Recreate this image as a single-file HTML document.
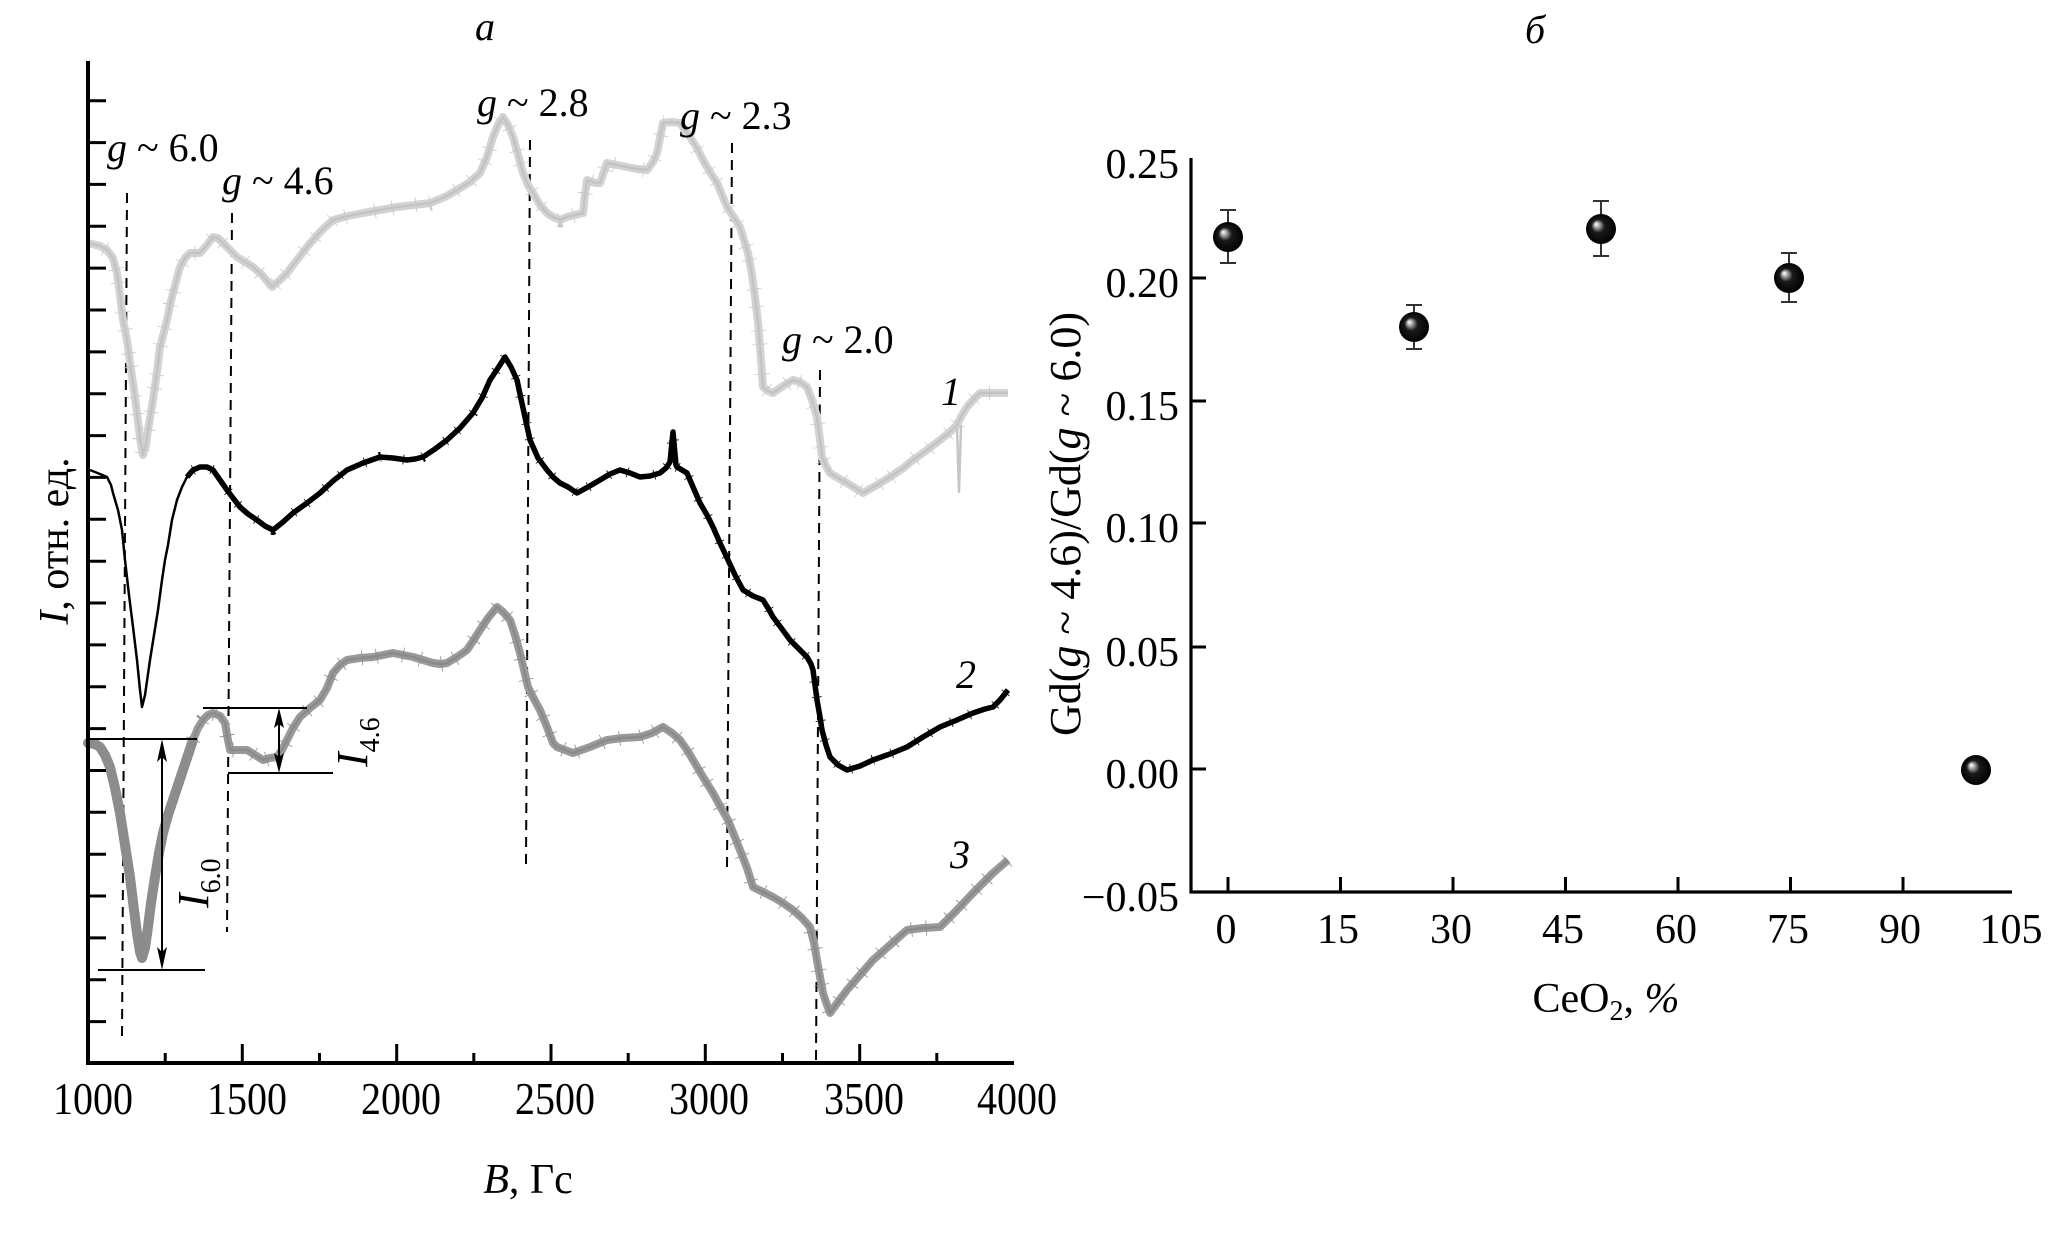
<!DOCTYPE html>
<html><head><meta charset="utf-8"><style>
html,body{margin:0;padding:0;background:#fff;}
svg{display:block;}
text{font-family:"Liberation Serif","DejaVu Serif",serif;fill:#000;}
</style></head><body>
<svg width="2067" height="1233" viewBox="0 0 2067 1233" xmlns="http://www.w3.org/2000/svg">
<rect width="2067" height="1233" fill="#fff"/>

<!-- ===== Left panel ===== -->
<text x="485" y="40" font-size="40" font-style="italic" text-anchor="middle">а</text>

<!-- dashed guide lines -->
<g stroke="#000" stroke-width="2" stroke-dasharray="10,7" fill="none">
<line x1="127" y1="193" x2="122" y2="1037"/>
<line x1="232" y1="213" x2="227" y2="932"/>
<line x1="530" y1="140" x2="526" y2="864"/>
<line x1="732" y1="143" x2="727" y2="867"/>
<line x1="820" y1="370" x2="816" y2="1062"/>
</g>

<!-- curve 1 (light gray) -->
<g fill="none" stroke-linejoin="round">
<polyline stroke="#d3d3d3" stroke-width="8" points="88,243 100,246 107,250 113,258 117,273 120,295 123,320 127,340 130,363 134,390 137,413 140,438 143,455 146,445 148,430 151,412 153,400 157,372 160,347 164,332 167,320 170,305 173,293 177,278 180,267 185,258 190,253 200,253 207,245 213,237 218,238 223,243 230,250 237,257 245,262 253,267 262,275 272,287 280,280 287,273 297,260 307,247 320,232 333,220 348,216 363,213 380,210 397,207 414,205 430,203 445,197 457,190 470,182 480,173 487,157 493,137 498,125 503,117 508,125 513,137 518,155 523,173 528,185 533,193 540,205 547,213 553,217 560,220 567,217 575,215 583,213 585,195 587,180 595,183 600,183 607,163 617,165 627,167 637,169 647,170 653,162 657,153 660,138 663,123 672,122 680,123 690,137 697,148 703,160 710,172 717,183 727,207 733,216 740,227 748,253 752,275 755,297 758,322 760,347 763,387 768,391 773,393 783,386 793,380 800,382 807,387 812,400 817,417 820,440 822,457 826,466 830,473 838,478 847,483 855,488 863,493 877,485 890,477 902,469 913,460 927,450 940,440 950,432 957,425 962,415 967,407 973,400 980,393 995,393 1008,393"/>
<polyline stroke="#c3c3c3" stroke-width="2.5" points="88,243 100,246 107,250 113,258 117,273 120,295 123,320 127,340 130,363 134,390 137,413 140,438 143,455 146,445 148,430 151,412 153,400 157,372 160,347 164,332 167,320 170,305 173,293 177,278 180,267 185,258 190,253 200,253 207,245 213,237 218,238 223,243 230,250 237,257 245,262 253,267 262,275 272,287 280,280 287,273 297,260 307,247 320,232 333,220 348,216 363,213 380,210 397,207 414,205 430,203 445,197 457,190 470,182 480,173 487,157 493,137 498,125 503,117 508,125 513,137 518,155 523,173 528,185 533,193 540,205 547,213 553,217 560,220 567,217 575,215 583,213 585,195 587,180 595,183 600,183 607,163 617,165 627,167 637,169 647,170 653,162 657,153 660,138 663,123 672,122 680,123 690,137 697,148 703,160 710,172 717,183 727,207 733,216 740,227 748,253 752,275 755,297 758,322 760,347 763,387 768,391 773,393 783,386 793,380 800,382 807,387 812,400 817,417 820,440 822,457 826,466 830,473 838,478 847,483 855,488 863,493 877,485 890,477 902,469 913,460 927,450 940,440 950,432 957,425 962,415 967,407 973,400 980,393 995,393 1008,393"/>
<polyline stroke="#c8c8c8" stroke-width="15" stroke-dasharray="0.8 17 0.8 23 0.8 13 0.8 29" points="88,243 100,246 107,250 113,258 117,273 120,295 123,320 127,340 130,363 134,390 137,413 140,438 143,455 146,445 148,430 151,412 153,400 157,372 160,347 164,332 167,320 170,305 173,293 177,278 180,267 185,258 190,253 200,253 207,245 213,237 218,238 223,243 230,250 237,257 245,262 253,267 262,275 272,287 280,280 287,273 297,260 307,247 320,232 333,220 348,216 363,213 380,210 397,207 414,205 430,203 445,197 457,190 470,182 480,173 487,157 493,137 498,125 503,117 508,125 513,137 518,155 523,173 528,185 533,193 540,205 547,213 553,217 560,220 567,217 575,215 583,213 585,195 587,180 595,183 600,183 607,163 617,165 627,167 637,169 647,170 653,162 657,153 660,138 663,123 672,122 680,123 690,137 697,148 703,160 710,172 717,183 727,207 733,216 740,227 748,253 752,275 755,297 758,322 760,347 763,387 768,391 773,393 783,386 793,380 800,382 807,387 812,400 817,417 820,440 822,457 826,466 830,473 838,478 847,483 855,488 863,493 877,485 890,477 902,469 913,460 927,450 940,440 950,432 957,425 962,415 967,407 973,400 980,393 995,393 1008,393"/>
<polyline stroke="#c6c6c6" stroke-width="2.5" points="957,428 959,492 961,426"/>
</g>

<!-- curve 2 (black) -->
<g fill="none" stroke="#000" stroke-linejoin="round">
<polyline stroke-width="2.5" points="90,470 100,474 107,477 111,485 113,493 118,510 122,530 125,560 129,595 133,627 137,660 140,690 142,707 145,695 150,660 154,635 158,610 162,580 165,560 168,545 172,520 177,500 182,487 187,477 193,470"/>
<polyline stroke-width="5.5" points="187,477 193,470 200,467 207,467 213,470 220,480 227,490 233,498 240,507 248,514 257,520 265,526 273,530 283,522 293,513 307,503 320,493 333,481 347,470 363,463 380,457 393,458 407,460 415,459 423,457 435,449 447,440 460,428 473,413 482,398 490,380 498,368 505,357 511,367 517,380 523,408 530,440 538,458 547,470 553,477 560,483 568,487 577,493 588,487 600,480 610,474 620,470 630,473 640,477 650,476 660,473 666,468 670,462 673,432 676,465 677,467 687,473 693,487 700,503 707,515 713,527 720,543 728,560 735,575 743,590 753,596 763,600 768,608 773,617 782,629 790,640 800,650 807,657 811,664 813,670 815,685 817,700 820,717 822,730 826,745 830,757 838,765 847,770 860,766 873,760 890,754 907,747 923,737 940,727 957,720 973,713 985,709 993,707 1000,700 1008,690"/>
<polyline stroke-width="10" stroke-dasharray="0.8 19 0.8 27 0.8 15 0.8 23" points="193,470 200,467 207,467 213,470 220,480 227,490 233,498 240,507 248,514 257,520 265,526 273,530 283,522 293,513 307,503 320,493 333,481 347,470 363,463 380,457 393,458 407,460 415,459 423,457 435,449 447,440 460,428 473,413 482,398 490,380 498,368 505,357 511,367 517,380 523,408 530,440 538,458 547,470 553,477 560,483 568,487 577,493 588,487 600,480 610,474 620,470 630,473 640,477 650,476 660,473 666,468 670,462 673,432 676,465 677,467 687,473 693,487 700,503 707,515 713,527 720,543 728,560 735,575 743,590 753,596 763,600 768,608 773,617 782,629 790,640 800,650 807,657 811,664 813,670 815,685 817,700 820,717 822,730 826,745 830,757 838,765 847,770 860,766 873,760 890,754 907,747 923,737 940,727 957,720 973,713 985,709 993,707 1000,700 1008,690"/>
</g>

<!-- curve 3 (medium gray) -->
<polyline fill="none" stroke="#8c8c8c" stroke-width="10" stroke-linejoin="round" stroke-linecap="round" points="88,743 95,744 100,747 105,755 110,767 115,788 120,813 125,845 130,877 134,910 137,933 140,952 142,958 145,948 148,927 151,903 155,877 159,853 163,833 168,815 173,800 178,785 183,770 188,755 193,740"/>
<g fill="none" stroke-linejoin="round">
<polyline stroke="#9a9a9a" stroke-width="8" points="193,740 198,728 203,720 208,715 213,713 220,716 225,723 228,740 230,750 238,750 247,750 255,755 263,760 270,758 277,757 282,750 287,740 293,728 300,717 310,708 320,700 327,688 333,673 340,665 347,660 360,658 373,657 383,655 393,653 403,655 413,657 423,660 433,663 440,664 447,663 457,657 467,650 473,641 480,630 488,618 497,607 503,612 510,620 515,635 520,653 524,670 528,687 534,699 540,710 547,727 553,743 557,747 565,750 573,753 590,747 607,740 623,738 640,737 652,733 663,727 672,733 680,740 687,750 693,760 703,777 713,793 720,806 728,820 734,835 740,850 747,868 753,887 763,892 773,897 783,903 793,910 802,918 810,927 814,943 817,960 820,977 823,993 827,1005 830,1013 838,1002 847,990 860,975 873,960 890,945 907,930 923,928 940,927 957,910 973,893 983,883 993,873 1000,867 1008,860"/>
<polyline stroke="#8a8a8a" stroke-width="2.5" points="193,740 198,728 203,720 208,715 213,713 220,716 225,723 228,740 230,750 238,750 247,750 255,755 263,760 270,758 277,757 282,750 287,740 293,728 300,717 310,708 320,700 327,688 333,673 340,665 347,660 360,658 373,657 383,655 393,653 403,655 413,657 423,660 433,663 440,664 447,663 457,657 467,650 473,641 480,630 488,618 497,607 503,612 510,620 515,635 520,653 524,670 528,687 534,699 540,710 547,727 553,743 557,747 565,750 573,753 590,747 607,740 623,738 640,737 652,733 663,727 672,733 680,740 687,750 693,760 703,777 713,793 720,806 728,820 734,835 740,850 747,868 753,887 763,892 773,897 783,903 793,910 802,918 810,927 814,943 817,960 820,977 823,993 827,1005 830,1013 838,1002 847,990 860,975 873,960 890,945 907,930 923,928 940,927 957,910 973,893 983,883 993,873 1000,867 1008,860"/>
<polyline stroke="#8c8c8c" stroke-width="15" stroke-dasharray="0.8 21 0.8 14 0.8 26 0.8 17" points="193,740 198,728 203,720 208,715 213,713 220,716 225,723 228,740 230,750 238,750 247,750 255,755 263,760 270,758 277,757 282,750 287,740 293,728 300,717 310,708 320,700 327,688 333,673 340,665 347,660 360,658 373,657 383,655 393,653 403,655 413,657 423,660 433,663 440,664 447,663 457,657 467,650 473,641 480,630 488,618 497,607 503,612 510,620 515,635 520,653 524,670 528,687 534,699 540,710 547,727 553,743 557,747 565,750 573,753 590,747 607,740 623,738 640,737 652,733 663,727 672,733 680,740 687,750 693,760 703,777 713,793 720,806 728,820 734,835 740,850 747,868 753,887 763,892 773,897 783,903 793,910 802,918 810,927 814,943 817,960 820,977 823,993 827,1005 830,1013 838,1002 847,990 860,975 873,960 890,945 907,930 923,928 940,927 957,910 973,893 983,883 993,873 1000,867 1008,860"/>
</g>

<!-- I6.0 and I4.6 annotations -->
<g stroke="#000" stroke-width="2" fill="none">
<line x1="88" y1="739" x2="197" y2="739"/>
<line x1="98" y1="970" x2="205" y2="970"/>
<line x1="162" y1="750" x2="162" y2="959"/>
<line x1="203" y1="708" x2="307" y2="708"/>
<line x1="228" y1="773" x2="333" y2="773"/>
<line x1="279" y1="718" x2="279" y2="763"/>
</g>
<g fill="#000">
<polygon points="162,739 157,762 162,757 167,762"/>
<polygon points="162,970 157,947 162,952 167,947"/>
<polygon points="279,708 274,728 279,724 284,728"/>
<polygon points="279,773 274,753 279,757 284,753"/>
</g>
<text transform="translate(208,908) rotate(-90)" font-size="44"><tspan font-style="italic">I</tspan><tspan font-size="28" dy="12">6.0</tspan></text>
<text transform="translate(367,767) rotate(-90)" font-size="44"><tspan font-style="italic">I</tspan><tspan font-size="28" dy="12">4.6</tspan></text>

<!-- g labels -->
<g font-size="40">
<text x="107" y="161"><tspan font-style="italic">g</tspan> ~ 6.0</text>
<text x="222" y="194"><tspan font-style="italic">g</tspan> ~ 4.6</text>
<text x="477" y="116"><tspan font-style="italic">g</tspan> ~ 2.8</text>
<text x="680" y="129"><tspan font-style="italic">g</tspan> ~ 2.3</text>
<text x="782" y="353"><tspan font-style="italic">g</tspan> ~ 2.0</text>
</g>
<g font-size="40" font-style="italic" text-anchor="middle">
<text x="951" y="405">1</text>
<text x="966" y="688">2</text>
<text x="960" y="868">3</text>
</g>

<!-- left axes -->
<path d="M88,61 V1063 H1014" fill="none" stroke="#000" stroke-width="4"/>
<path fill="none" stroke="#000" stroke-width="3" d="M88,100.7h18M88,142.6h18M88,184.4h18M88,226.3h18M88,268.1h18M88,310h18M88,351.9h18M88,393.7h18M88,435.6h18M88,477.4h18M88,519.3h18M88,561.2h18M88,603h18M88,644.9h18M88,686.7h18M88,728.6h18M88,770.5h18M88,812.3h18M88,854.2h18M88,896h18M88,937.9h18M88,979.8h18M88,1021.6h18"/>
<path fill="none" stroke="#000" stroke-width="3" d="M165.2,1063v-10M242.3,1063v-19M319.5,1063v-10M396.7,1063v-19M473.8,1063v-10M551,1063v-19M628.2,1063v-10M705.3,1063v-19M782.5,1063v-10M859.7,1063v-19M936.8,1063v-10"/>
<g font-size="40" text-anchor="middle" transform="translate(0,1114) scale(1,1.15) translate(0,-1114)">
<text x="93" y="1114">1000</text>
<text x="247" y="1114">1500</text>
<text x="401" y="1114">2000</text>
<text x="555" y="1114">2500</text>
<text x="709" y="1114">3000</text>
<text x="864" y="1114">3500</text>
<text x="1017" y="1114">4000</text>
</g>
<text x="528" y="1193" font-size="42" text-anchor="middle"><tspan font-style="italic">B</tspan>, Гс</text>
<text transform="translate(68,541) rotate(-90)" font-size="42" text-anchor="middle"><tspan font-style="italic">I</tspan>, отн. ед.</text>

<!-- ===== Right panel ===== -->
<text x="1535" y="43" font-size="40" font-style="italic" text-anchor="middle">б</text>
<path d="M1191,158 V892 H2012" fill="none" stroke="#000" stroke-width="3.2"/>
<path fill="none" stroke="#000" stroke-width="3" d="M1191,278h15M1191,401h15M1191,523h15M1191,647h15M1191,769h15M1228,892v-15M1340.5,892v-15M1453,892v-15M1565.5,892v-15M1678,892v-15M1790.5,892v-15M1903,892v-15"/>
<g font-size="42" text-anchor="end">
<text x="1179" y="178">0.25</text>
<text x="1179" y="297">0.20</text>
<text x="1179" y="420">0.15</text>
<text x="1179" y="542">0.10</text>
<text x="1179" y="666">0.05</text>
<text x="1179" y="788">0.00</text>
<text x="1179" y="911">−0.05</text>
</g>
<g font-size="42" text-anchor="middle">
<text x="1226" y="943">0</text>
<text x="1338" y="943">15</text>
<text x="1451" y="943">30</text>
<text x="1563" y="943">45</text>
<text x="1676" y="943">60</text>
<text x="1788" y="943">75</text>
<text x="1900" y="943">90</text>
<text x="2011" y="943">105</text>
</g>
<text x="1606" y="1012" font-size="42" text-anchor="middle">CeO<tspan font-size="28" dy="8">2</tspan><tspan dy="-8">, </tspan><tspan font-style="italic">%</tspan></text>
<text transform="translate(1080,524) rotate(-90)" font-size="44" text-anchor="middle">Gd(<tspan font-style="italic">g</tspan> ~ 4.6)/Gd(<tspan font-style="italic">g</tspan> ~ 6.0)</text>

<defs>
<radialGradient id="sph" cx="0.5" cy="0.5" r="0.5" fx="0.33" fy="0.33">
<stop offset="0" stop-color="#ffffff"/>
<stop offset="0.08" stop-color="#e0e0e0"/>
<stop offset="0.24" stop-color="#8a8a8a"/>
<stop offset="0.44" stop-color="#1a1a1a"/>
<stop offset="1" stop-color="#000"/>
</radialGradient>
</defs>
<g stroke="#333" stroke-width="2" fill="none">
<path d="M1228,210V263M1220,210h16M1220,263h16"/>
<path d="M1414,305V349M1406,305h16M1406,349h16"/>
<path d="M1601,201V256M1593,201h16M1593,256h16"/>
<path d="M1789,253V302M1781,253h16M1781,302h16"/>
</g>
<g fill="url(#sph)">
<circle cx="1228" cy="237" r="15"/>
<circle cx="1414" cy="327" r="15"/>
<circle cx="1601" cy="229" r="15"/>
<circle cx="1789" cy="278" r="15"/>
<circle cx="1976" cy="770" r="15"/>
</g>
</svg>
</body></html>
